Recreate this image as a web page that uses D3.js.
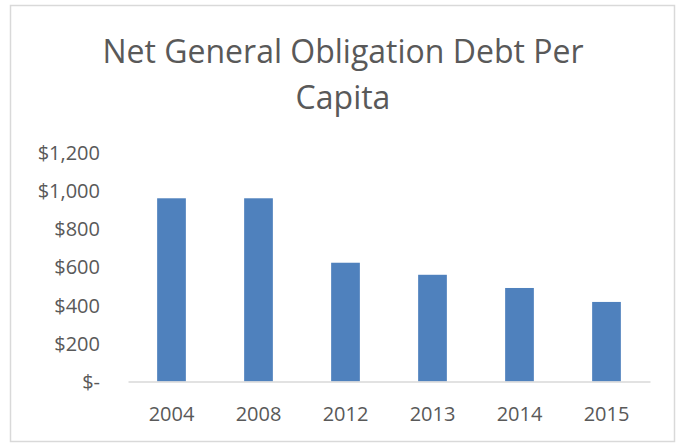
<!DOCTYPE html>
<html>
<head>
<meta charset="utf-8">
<script src="https://cdn.jsdelivr.net/npm/d3@7"></script>
<style>
  html, body { margin: 0; padding: 0; background: #ffffff; }
  svg { display: block; }
  text { font-family: "Open Sans", "Noto Sans", sans-serif; fill: #595959; }
</style>
</head>
<body>
<svg id="chart" width="677" height="443"></svg>
<script>
// Net general obligation debt per capita, by year (dollars)
const years = ["2004", "2008", "2012", "2013", "2014", "2015"];
const debtPerCapita = [958, 958, 621, 558, 489, 416];
const yTicks = [0, 200, 400, 600, 800, 1000, 1200];
const titleLines = ["Net General Obligation Debt Per", "Capita"];

const width = 677, height = 443;
const plot = { left: 128, right: 650, top: 152, bottom: 381.5 };

const svg = d3.select("#chart");

// chart frame
svg.append("rect")
  .attr("x", 10.5).attr("y", 5.5)
  .attr("width", 664).attr("height", 436)
  .attr("fill", "#ffffff")
  .attr("stroke", "#d9d9d9")
  .attr("stroke-width", 1.5);

// title
svg.append("g").selectAll("text")
  .data(titleLines)
  .join("text")
  .attr("x", 343)
  .attr("y", (d, i) => 63 + i * 46)
  .attr("text-anchor", "middle")
  .style("font-size", "32px")
  .text(d => d);

const x = d3.scaleBand()
  .domain(years)
  .range([plot.left, plot.right])
  .paddingInner(0.67)
  .paddingOuter(0.335);

const y = d3.scaleLinear()
  .domain([0, 1200])
  .range([plot.bottom, plot.top]);

const fmt = v => v === 0 ? "$-" : "$" + d3.format(",")(v);

// y axis labels
const yAxis = svg.append("g")
  .attr("transform", `translate(100,0)`)
  .call(d3.axisLeft(y).tickValues(yTicks).tickFormat(fmt).tickSize(0).tickPadding(0));
yAxis.select(".domain").remove();
yAxis.selectAll("text")
  .attr("x", 0)
  .attr("dy", "0.35em")
  .attr("text-anchor", "end")
  .style("font-size", "20px")
  .style("font-family", null)
  .attr("font-family", null);

// bars
svg.append("g").selectAll("rect")
  .data(years.map((yr, i) => ({ yr, v: debtPerCapita[i] })))
  .join("rect")
  .attr("x", d => x(d.yr))
  .attr("y", d => y(d.v))
  .attr("width", x.bandwidth())
  .attr("height", d => y(0) - y(d.v))
  .attr("fill", "#4f81bd");

// x axis
const xAxis = svg.append("g")
  .attr("transform", `translate(0,${plot.bottom})`)
  .call(d3.axisBottom(x).tickSize(0).tickPadding(0));
xAxis.select(".domain")
  .attr("stroke", "#d9d9d9")
  .attr("stroke-width", 1.5);
xAxis.selectAll("text")
  .attr("y", 39)
  .attr("dy", 0)
  .style("font-size", "20px")
  .attr("font-family", null);
svg.selectAll(".tick text").attr("fill", "#595959");
svg.selectAll("g[font-family]").attr("font-family", null).attr("font-size", null);
</script>
</body>
</html>
